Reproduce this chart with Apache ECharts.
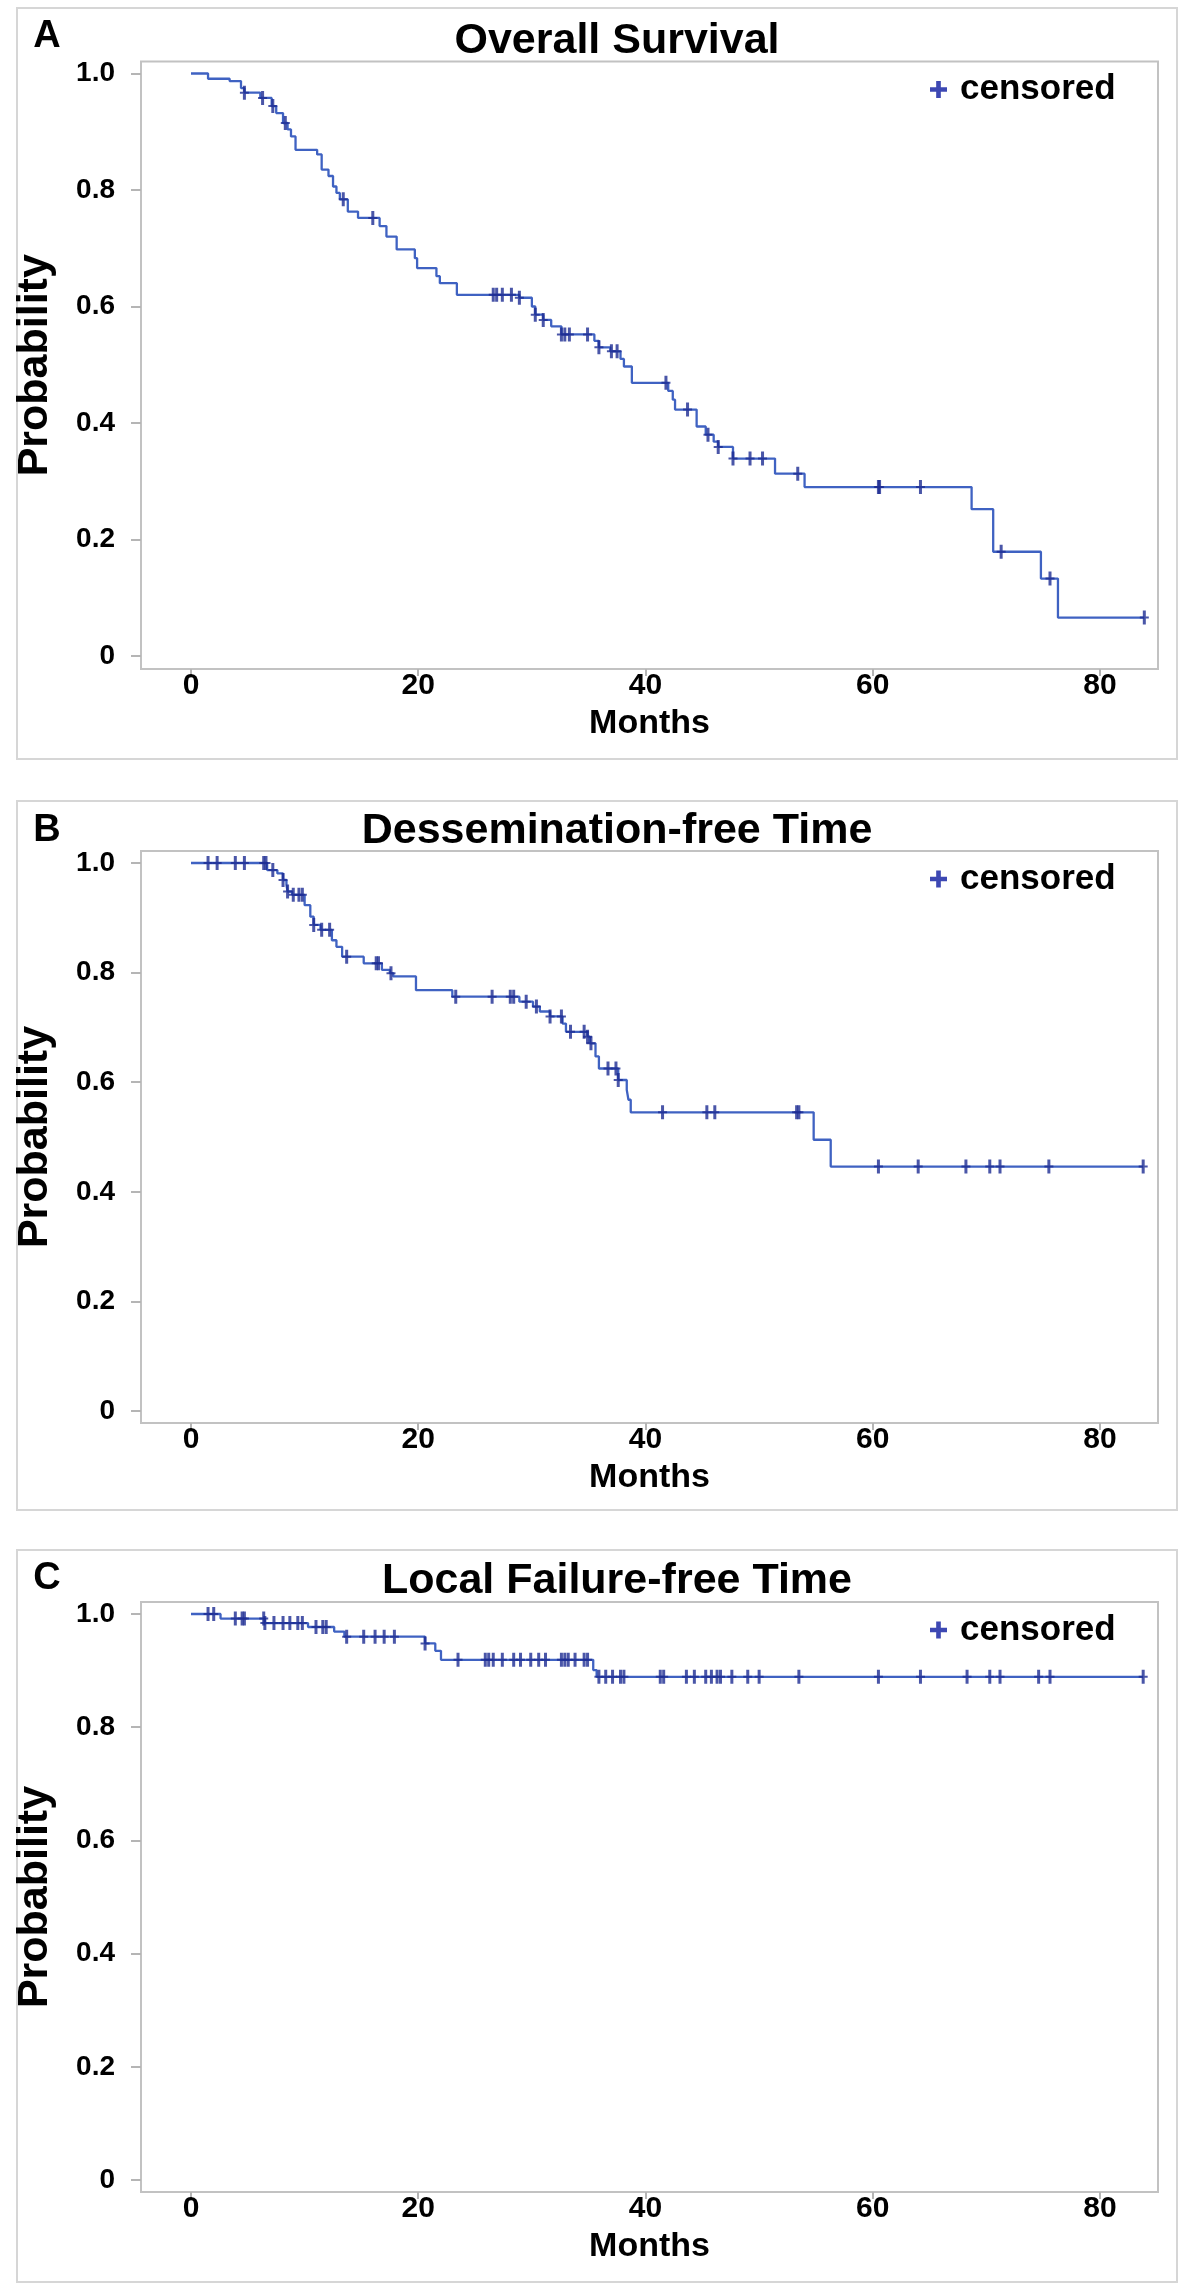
<!DOCTYPE html>
<html>
<head>
<meta charset="utf-8">
<script src="https://cdn.jsdelivr.net/npm/echarts@6/dist/echarts.min.js"></script>
<style>
html,body{margin:0;padding:0;background:#fff;}
#chart{width:1200px;height:2293px;}
</style>
</head>
<body>
<div id="chart"></div>
<script>
// ---------- DATA ----------
const xTicks = [0, 20, 40, 60, 80];
const yTicks = [0, 0.2, 0.4, 0.6, 0.8, 1.0];

// A: Overall Survival (event times / survival after event)
const osTime = [1.5, 3.4, 4.4, 4.7, 6.1, 7.1, 7.5, 8.1, 8.5, 8.8, 9.2, 11.1, 11.5, 12.1, 12.5, 12.8, 13.1, 13.8, 14.7, 16.6, 17.2, 18.1, 19.7, 19.9, 21.6, 21.9, 23.4, 28.9, 30.0, 30.3, 31.0, 31.7, 32.6, 35.5, 35.9, 36.9, 37.8, 38.1, 38.8, 42.0, 42.4, 42.6, 44.5, 45.3, 46.0, 46.4, 47.7, 51.4, 54.0, 68.7, 70.6, 74.8, 76.3];
const osSurv = [0.991, 0.987, 0.975, 0.967, 0.958, 0.944, 0.932, 0.915, 0.904, 0.892, 0.869, 0.861, 0.835, 0.824, 0.806, 0.795, 0.784, 0.763, 0.752, 0.738, 0.720, 0.698, 0.683, 0.666, 0.652, 0.640, 0.620, 0.615, 0.600, 0.586, 0.577, 0.566, 0.552, 0.541, 0.530, 0.523, 0.510, 0.497, 0.469, 0.455, 0.440, 0.423, 0.394, 0.380, 0.368, 0.359, 0.339, 0.313, 0.290, 0.252, 0.179, 0.133, 0.066];
const osCensor = [4.7, 6.3, 7.2, 8.3, 13.4, 16.0, 26.6, 26.9, 27.4, 28.2, 28.9, 30.3, 31.0, 32.6, 32.9, 33.3, 34.9, 35.9, 37.0, 37.5, 41.8, 43.7, 45.5, 46.4, 47.7, 49.2, 50.3, 53.4, 60.5, 60.6, 64.2, 71.3, 75.6, 83.9];

// B: Dessemination-free Time
const dfTime = [6.7, 7.6, 8.1, 8.4, 8.5, 8.9, 10.0, 10.5, 10.8, 11.4, 12.4, 12.8, 13.3, 15.2, 16.8, 17.5, 17.8, 19.8, 23.0, 28.9, 30.1, 30.7, 31.6, 32.7, 33.0, 34.9, 35.1, 35.6, 35.9, 37.6, 38.35, 38.5, 38.7, 54.8, 56.3];
const dfSurv = [0.987, 0.981, 0.969, 0.960, 0.948, 0.942, 0.923, 0.902, 0.887, 0.878, 0.859, 0.847, 0.829, 0.817, 0.805, 0.799, 0.793, 0.768, 0.756, 0.747, 0.738, 0.729, 0.720, 0.707, 0.692, 0.683, 0.671, 0.647, 0.625, 0.604, 0.586, 0.568, 0.545, 0.495, 0.446];
const dfCensor = [1.5, 2.3, 3.9, 4.7, 6.4, 6.6, 7.2, 8.1, 8.5, 9.0, 9.5, 9.8, 10.8, 11.5, 12.2, 13.7, 16.3, 16.5, 17.6, 23.3, 26.5, 28.1, 28.4, 29.5, 30.4, 31.6, 32.6, 33.4, 34.6, 34.9, 35.2, 36.7, 37.4, 37.6, 41.5, 45.4, 46.1, 53.3, 53.5, 60.5, 64.0, 68.2, 70.3, 71.2, 75.5, 83.8];

// C: Local Failure-free Time
const lfTime = [2.6, 6.5, 10.3, 12.6, 13.5, 20.6, 21.5, 22.0, 35.4, 35.7];
const lfSurv = [0.992, 0.984, 0.977, 0.969, 0.960, 0.948, 0.935, 0.919, 0.901, 0.889];
const lfCensor = [1.5, 2.0, 3.9, 4.5, 4.7, 6.4, 6.5, 7.3, 8.1, 8.7, 9.4, 9.8, 11.0, 11.6, 11.9, 13.7, 15.2, 16.2, 17.0, 17.9, 20.6, 23.5, 25.9, 26.2, 26.6, 27.4, 28.4, 29.0, 29.9, 30.6, 31.2, 32.6, 32.9, 33.2, 33.8, 34.6, 34.9, 35.9, 36.5, 37.1, 37.8, 38.1, 41.3, 41.6, 43.6, 44.3, 45.3, 45.8, 46.3, 46.6, 47.6, 49.0, 50.0, 53.5, 60.5, 64.2, 68.3, 70.3, 71.2, 74.6, 75.6, 83.8];

const panelTitles = ['Overall Survival', 'Dessemination-free Time', 'Local Failure-free Time'];
const panelLetters = ['A', 'B', 'C'];
const legendLabel = 'censored';
const xName = 'Months';
const yName = 'Probability';

// ---------- LAYOUT (pixels) ----------
const layout = [
  {box: [8, 759],    frame: [61.5, 669],  y1: 73.5, y0: 656,  titleC: 41.5, letterC: 37},
  {box: [801, 1510], frame: [851, 1423],  y1: 863,  y0: 1411, titleC: 831,  letterC: 831},
  {box: [1550, 2282],frame: [1602, 2192], y1: 1614, y0: 2180, titleC: 1581, letterC: 1579}
];
const frameL = 141, frameR = 1158, x0px = 191, x80px = 1100;
const pxPerMonth = (x80px - x0px) / 80;
const xMin = (frameL - x0px) / pxPerMonth;
const xMax = (frameR - x0px) / pxPerMonth;

const FONT = '"Liberation Sans", Arial, sans-serif';
const lineColor = '#3f62c2';
const censColor = '#1d2c92';
const plusPath = 'path://M3,0H6V6H9V8H6V14H3V8H0V6H3Z';
const legendPlus = 'path://M4,0H7V4H11V7H7V11H4V7H0V4H4Z';

function survAt(times, survs, t) {
  let s = 1;
  for (let i = 0; i < times.length; i++) if (times[i] <= t) s = survs[i];
  return s;
}
function curve(times, survs, cens) {
  const d = [[0, 1]];
  for (let i = 0; i < times.length; i++) d.push([times[i], survs[i]]);
  const last = Math.max(times[times.length - 1], Math.max.apply(null, cens));
  d.push([last, survs[survs.length - 1]]);
  return d;
}
function censPts(times, survs, cens) {
  return cens.map(c => [c, survAt(times, survs, c)]);
}

const sets = [[osTime, osSurv, osCensor], [dfTime, dfSurv, dfCensor], [lfTime, lfSurv, lfCensor]];

const grids = [], xAxes = [], yAxes = [], series = [], titles = [], legends = [], graphics = [];
layout.forEach((L, i) => {
  const ppu = L.y0 - L.y1;
  const yMax = 1 + (L.y1 - L.frame[0]) / ppu;
  const yMin = -(L.frame[1] - L.y0) / ppu;
  grids.push({left: frameL, top: L.frame[0], width: frameR - frameL, height: L.frame[1] - L.frame[0],
    show: true, borderColor: '#c2c2c2', borderWidth: 2, backgroundColor: 'transparent'});
  xAxes.push({type: 'value', gridIndex: i, min: xMin, max: xMax, position: 'bottom',
    axisLine: {show: false, onZero: false}, splitLine: {show: false},
    axisTick: {show: true, length: 7, customValues: xTicks, lineStyle: {color: '#b5b5b5', width: 2}},
    axisLabel: {show: true, customValues: xTicks, margin: 2, fontSize: 30, fontWeight: 'bold', color: '#000', fontFamily: FONT,
      formatter: v => String(Math.round(v))},
    name: xName, nameLocation: 'middle', nameGap: 38,
    nameTextStyle: {fontSize: 34, fontWeight: 'bold', color: '#000', fontFamily: FONT}});
  yAxes.push({type: 'value', gridIndex: i, min: yMin, max: yMax, position: 'left',
    axisLine: {show: false, onZero: false}, splitLine: {show: false},
    axisTick: {show: true, length: 10, customValues: yTicks, lineStyle: {color: '#b5b5b5', width: 2}},
    axisLabel: {show: true, customValues: yTicks, margin: 26, fontSize: 28, fontWeight: 'bold', color: '#000', fontFamily: FONT,
      formatter: v => (Math.abs(v) < 1e-9 ? '0' : v.toFixed(1))},
    name: yName, nameLocation: 'middle', nameGap: 84,
    nameTextStyle: {fontSize: 43, fontWeight: 'bold', color: '#000', fontFamily: FONT}});
  const [t, s, c] = sets[i];
  series.push({type: 'line', name: 'curve' + i, xAxisIndex: i, yAxisIndex: i, step: 'end',
    data: curve(t, s, c), showSymbol: false, symbol: 'none', silent: true,
    lineStyle: {color: lineColor, width: 2.3}, z: 2});
  series.push({type: 'scatter', name: legendLabel, xAxisIndex: i, yAxisIndex: i,
    data: censPts(t, s, c), symbol: plusPath, symbolSize: [9, 14],
    itemStyle: {color: censColor}, z: 3});
  titles.push({text: panelTitles[i], left: 617, top: L.titleC - 21.5, textAlign: 'center', padding: 0,
    textStyle: {fontSize: 43, fontWeight: 'bold', color: '#000', fontFamily: FONT, lineHeight: 43}});
  titles.push({text: panelLetters[i], left: 47, top: L.letterC - 19, textAlign: 'center', padding: 0,
    textStyle: {fontSize: 38, fontWeight: 'bold', color: '#000', fontFamily: FONT, lineHeight: 38}});
  legends.push({left: 930, top: L.frame[0] + 28 - 18, padding: 0, itemWidth: 17, itemHeight: 17, selectedMode: false,
    data: [{name: legendLabel, icon: legendPlus, itemStyle: {color: '#0c1aa0'}}],
    textStyle: {fontSize: 35, fontWeight: 'bold', color: '#000', fontFamily: FONT, padding: [0, 0, 0, 8], lineHeight: 36}});
  graphics.push({type: 'rect', silent: true, z: -10,
    shape: {x: 17, y: L.box[0], width: 1160, height: L.box[1] - L.box[0]},
    style: {fill: 'none', stroke: '#d6d6d6', lineWidth: 2}});
});

const chart = echarts.init(document.getElementById('chart'), null, {renderer: 'canvas'});
chart.setOption({
  backgroundColor: '#fff',
  animation: false,
  title: titles,
  legend: legends,
  grid: grids,
  xAxis: xAxes,
  yAxis: yAxes,
  series: series,
  graphic: graphics
});
</script>
</body>
</html>
